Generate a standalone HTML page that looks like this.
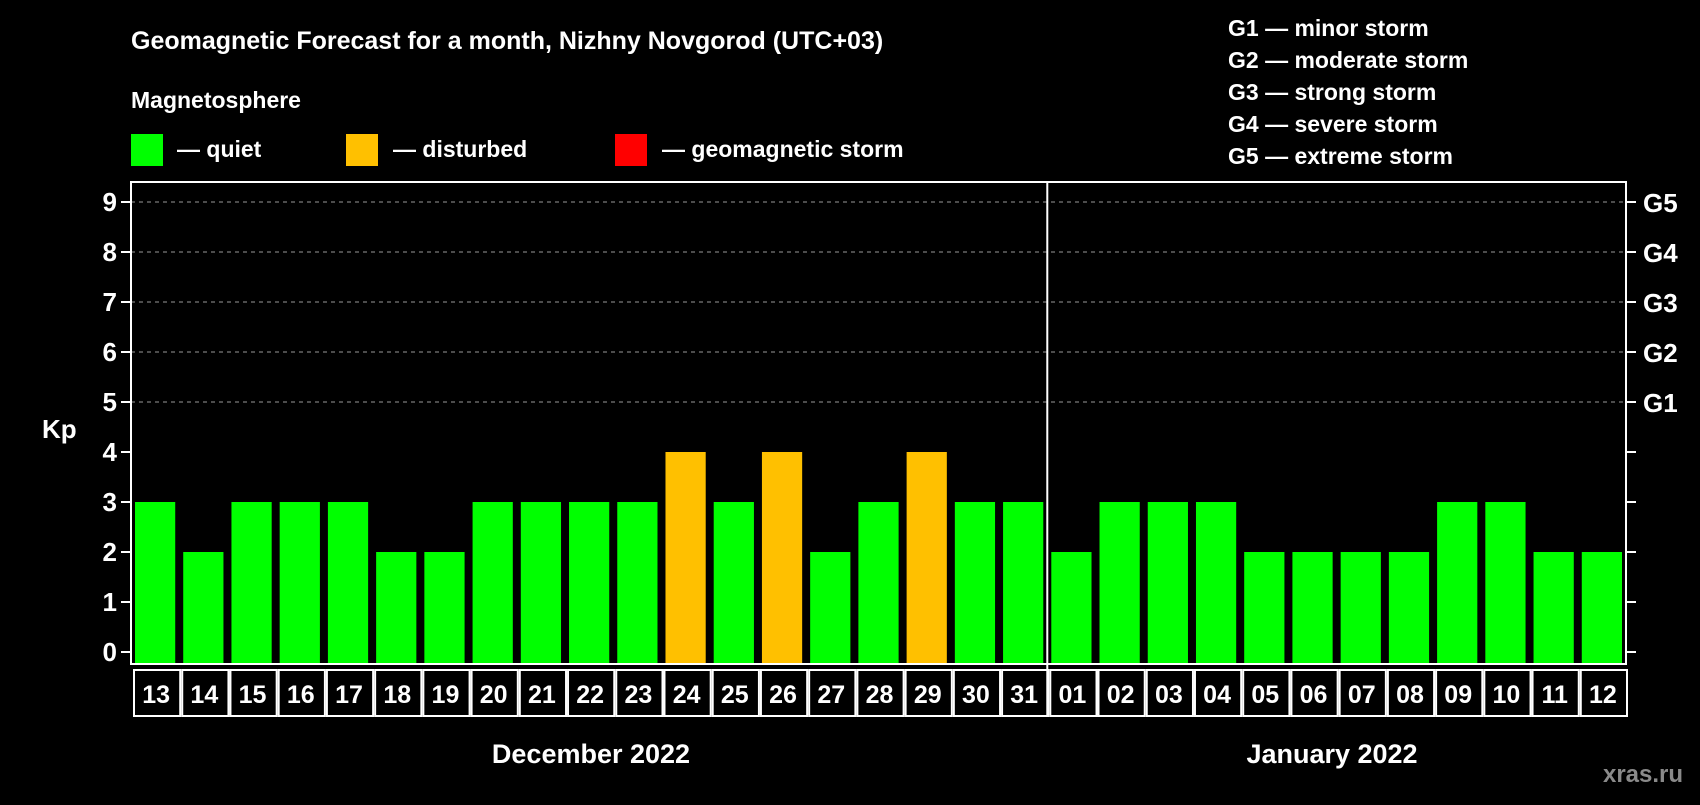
<!DOCTYPE html>
<html><head><meta charset="utf-8"><style>
body{margin:0;background:#000;width:1700px;height:800px;overflow:hidden;font-family:"Liberation Sans",sans-serif}
svg text{font-family:"Liberation Sans",sans-serif;font-weight:bold;fill:#fff}
</style></head><body>
<svg id="c" width="1700" height="800">
<text x="131" y="49" font-size="25">Geomagnetic Forecast for a month, Nizhny Novgorod (UTC+03)</text>
<text x="131" y="108" font-size="23">Magnetosphere</text>
<rect x="131" y="134" width="32" height="32" fill="#00ff00"/>
<text x="177" y="157" font-size="23">— quiet</text>
<rect x="346" y="134" width="32" height="32" fill="#ffc000"/>
<text x="393" y="157" font-size="23">— disturbed</text>
<rect x="615" y="134" width="32" height="32" fill="#ff0000"/>
<text x="662" y="157" font-size="23">— geomagnetic storm</text>
<g font-size="23">
<text x="1228" y="36">G1 — minor storm</text>
<text x="1228" y="68">G2 — moderate storm</text>
<text x="1228" y="100">G3 — strong storm</text>
<text x="1228" y="132">G4 — severe storm</text>
<text x="1228" y="164">G5 — extreme storm</text>
</g>
<text x="42" y="438" font-size="26">Kp</text>
<text x="591" y="763" font-size="27" text-anchor="middle">December 2022</text>
<text x="1332" y="763" font-size="27" text-anchor="middle">January 2022</text>
<text x="1643" y="782" font-size="24" fill="#888" style="fill:#8a8a8a" text-anchor="middle">xras.ru</text>
<g id="plot"></g>
</svg>
<script>
const days=["13","14","15","16","17","18","19","20","21","22","23","24","25","26","27","28","29","30","31","01","02","03","04","05","06","07","08","09","10","11","12"];
const kp=[3,2,3,3,3,2,2,3,3,3,3,4,3,4,2,3,4,3,3,2,3,3,3,2,2,2,2,3,3,2,2];
const yTicks=[0,1,2,3,4,5,6,7,8,9];
const gLabels=["","","","","","G1","G2","G3","G4","G5"];
const decCount=19;
const L=131,R=1626,T=182,B=664,Y0=652,YU=50;
const NS="http://www.w3.org/2000/svg";
const g=document.getElementById('plot');
const slot=(R-L)/days.length;
const x=i=>L+i*slot;
const y=v=>Y0-v*YU;
function el(t,a){const e=document.createElementNS(NS,t);for(const k in a)e.setAttribute(k,a[k]);g.appendChild(e);return e;}
yTicks.forEach((v,i)=>{
 if(v>=5){const l=el('line',{x1:L,x2:R,y1:y(v),y2:y(v),stroke:'#999','stroke-dasharray':'4,4','stroke-width':1});
 
 }
 const t1=el('line',{x1:L-10,x2:L,y1:y(v),y2:y(v),stroke:'#fff','stroke-width':2});
 
 
 const t2=el('line',{x1:R,x2:R+10,y1:y(v),y2:y(v),stroke:'#fff','stroke-width':2});
 
 
 const tl=el('text',{x:L-14,y:y(v)+9,'font-size':26,'text-anchor':'end'});tl.textContent=v;
 
 
 if(gLabels[i]){const gl=el('text',{x:R+17,y:y(v)+10,'font-size':26});gl.textContent=gLabels[i];
 
 }
});
kp.forEach((v,i)=>{
 const c=v>=5?'#ff0000':v>=4?'#ffc000':'#00ff00';
 const b=el('rect',{x:x(i)+4,y:y(v),width:slot-8,height:B-y(v),fill:c});
 
 
 const bx=el('rect',{x:x(i)+3,y:B+6,width:slot-2,height:46,fill:'none',stroke:'#fff','stroke-width':2});
 
 
 const t=el('text',{x:x(i)+slot/2+1,y:B+39,'font-size':25,'text-anchor':'middle'});t.textContent=days[i];
 
 
});
const fr=el('rect',{x:L,y:T,width:R-L,height:B-T,fill:'none',stroke:'#fff','stroke-width':2});


const dv=el('line',{x1:x(decCount),x2:x(decCount),y1:T,y2:B+52,stroke:'#fff','stroke-width':2});


</script>
</body></html>
